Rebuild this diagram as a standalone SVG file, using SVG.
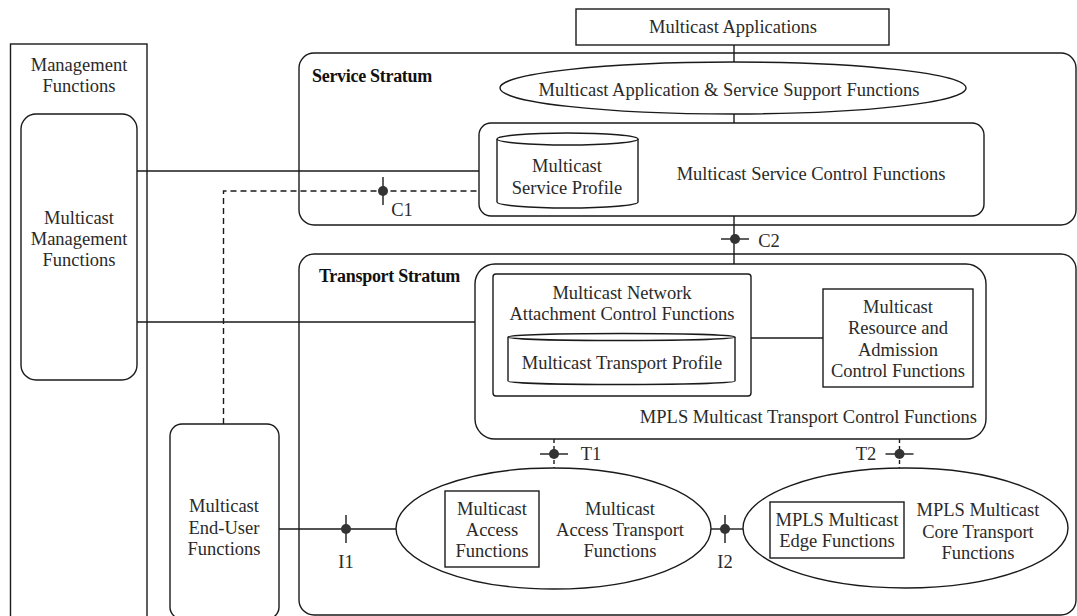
<svg xmlns="http://www.w3.org/2000/svg" width="1077" height="616" viewBox="0 0 1077 616">
<style>
.b{fill:none;stroke:#1a1a1a;stroke-width:1.4}
.w{fill:#fff;stroke:#1a1a1a;stroke-width:1.4}
.t{font-family:"Liberation Serif",serif;font-size:18.5px;fill:#2a2a2a;text-anchor:middle}
.s{font-family:"Liberation Serif",serif;font-size:18px;font-weight:bold;fill:#111;letter-spacing:-0.3px}
.l{fill:none;stroke:#1a1a1a;stroke-width:1.4}
.d{fill:none;stroke:#1a1a1a;stroke-width:1.4;stroke-dasharray:6 4}
.dot{fill:#333}
</style>
<rect width="1077" height="616" fill="#fff"/>

<g id="management-functions">
<rect class="b" x="10.5" y="44" width="136.5" height="700"/>
<text class="t" x="79" y="71">Management</text>
<text class="t" x="79" y="92">Functions</text>
</g>

<g id="service-stratum">
<rect class="b" x="299" y="53" width="777" height="172" rx="15"/>
<text class="s" x="312" y="82">Service Stratum</text>
</g>

<g id="transport-stratum">
<rect class="b" x="299" y="254" width="777" height="361" rx="15"/>
<text class="s" x="319" y="282">Transport Stratum</text>
</g>

<g id="multicast-management-functions">
<rect class="w" x="21" y="114" width="116" height="266" rx="15"/>
<text class="t" x="79" y="224">Multicast</text>
<text class="t" x="79" y="245">Management</text>
<text class="t" x="79" y="266">Functions</text>
</g>

<g id="multicast-applications">
<rect class="w" x="576" y="9" width="313" height="36"/>
<text class="t" x="733" y="33">Multicast Applications</text>
</g>

<g id="app-service-support">
<ellipse class="w" cx="733" cy="88" rx="233" ry="26"/>
<text class="t" x="729" y="96">Multicast Application &amp; Service Support Functions</text>
</g>

<g id="service-control">
<rect class="w" x="479" y="123" width="505" height="93" rx="12"/>
<text class="t" x="811" y="180">Multicast Service Control Functions</text>
</g>

<g id="service-profile">
<path class="w" d="M497,139 A70.5,6 0 0 1 638,139 L638,202 A70.5,6 0 0 1 497,202 Z"/>
<path class="l" d="M497,139 A70.5,6 0 0 0 638,139"/>
<text class="t" x="567" y="172">Multicast</text>
<text class="t" x="567" y="194">Service Profile</text>
</g>

<g id="transport-control">
<rect class="w" x="475" y="264" width="511" height="175" rx="20"/>
<text class="t" x="977" y="423" style="text-anchor:end">MPLS Multicast Transport Control Functions</text>
</g>

<g id="network-attachment">
<rect class="w" x="493" y="274" width="258" height="122" rx="3"/>
<text class="t" x="622" y="299">Multicast Network</text>
<text class="t" x="622" y="320">Attachment Control Functions</text>
</g>

<g id="transport-profile">
<path class="w" d="M508,337 A113.5,3.5 0 0 1 735,337 L735,381 A113.5,3.5 0 0 1 508,381 Z"/>
<path class="l" d="M508,337 A113.5,3.5 0 0 0 735,337"/>
<text class="t" x="622" y="369">Multicast Transport Profile</text>
</g>

<g id="resource-admission">
<rect class="w" x="823" y="289" width="150" height="98"/>
<text class="t" x="898" y="312.5">Multicast</text>
<text class="t" x="898" y="334">Resource and</text>
<text class="t" x="898" y="355.5">Admission</text>
<text class="t" x="898" y="377">Control Functions</text>
</g>

<g id="end-user">
<rect class="w" x="170" y="424" width="109" height="195" rx="12"/>
<text class="t" x="224" y="512">Multicast</text>
<text class="t" x="224" y="534">End-User</text>
<text class="t" x="224" y="555">Functions</text>
</g>

<g id="access-transport">
<ellipse class="w" cx="553.5" cy="528.5" rx="157.5" ry="60.5"/>
<text class="t" x="620" y="515">Multicast</text>
<text class="t" x="620" y="536">Access Transport</text>
<text class="t" x="620" y="557">Functions</text>
</g>

<g id="access-functions">
<rect class="w" x="445" y="491" width="94" height="76"/>
<text class="t" x="492" y="515">Multicast</text>
<text class="t" x="492" y="536">Access</text>
<text class="t" x="492" y="557">Functions</text>
</g>

<g id="core-transport">
<ellipse class="w" cx="905.5" cy="528" rx="162.5" ry="60"/>
<text class="t" x="978" y="516">MPLS Multicast</text>
<text class="t" x="978" y="538">Core Transport</text>
<text class="t" x="978" y="559">Functions</text>
</g>

<g id="edge-functions">
<rect class="w" x="770" y="502" width="134" height="56"/>
<text class="t" x="837" y="526">MPLS Multicast</text>
<text class="t" x="837" y="547">Edge Functions</text>
</g>

<g id="connectors">
<line class="l" x1="734" y1="45" x2="734" y2="62"/>
<line class="l" x1="734" y1="114" x2="734" y2="123"/>
<line class="l" x1="734" y1="216" x2="734" y2="264"/>
<line class="l" x1="137" y1="171" x2="479" y2="171"/>
<line class="l" x1="137" y1="322" x2="475" y2="322"/>
<polyline class="d" points="223.5,424 223.5,191 479,191"/>
<line class="l" x1="751" y1="338" x2="823" y2="338"/>
<line class="l" x1="279" y1="529" x2="396" y2="529"/>
<line class="l" x1="711" y1="529" x2="743" y2="529"/>
<line class="d" x1="554" y1="439" x2="554" y2="468" style="stroke-dasharray:4 3"/>
<line class="d" x1="899.5" y1="439" x2="899.5" y2="468" style="stroke-dasharray:4 3"/>
</g>

<g id="reference-points">
<g id="c1"><line class="l" x1="383" y1="177" x2="383" y2="205"/><circle class="dot" cx="383" cy="191" r="5"/><text class="t" x="402" y="216">C1</text></g>
<g id="c2"><line class="l" x1="721" y1="239" x2="749" y2="239"/><circle class="dot" cx="735" cy="239" r="5"/><text class="t" x="769" y="247">C2</text></g>
<g id="t1"><line class="l" x1="540" y1="454" x2="568" y2="454"/><circle class="dot" cx="554" cy="454" r="5"/><text class="t" x="591" y="460">T1</text></g>
<g id="t2"><line class="l" x1="885.5" y1="454" x2="913.5" y2="454"/><circle class="dot" cx="899.5" cy="454" r="5"/><text class="t" x="866" y="460">T2</text></g>
<g id="i1"><line class="l" x1="346" y1="515" x2="346" y2="543"/><circle class="dot" cx="346" cy="529" r="5"/><text class="t" x="346" y="568">I1</text></g>
<g id="i2"><line class="l" x1="725" y1="515" x2="725" y2="543"/><circle class="dot" cx="725" cy="529" r="5"/><text class="t" x="725" y="568">I2</text></g>
</g>
</svg>
